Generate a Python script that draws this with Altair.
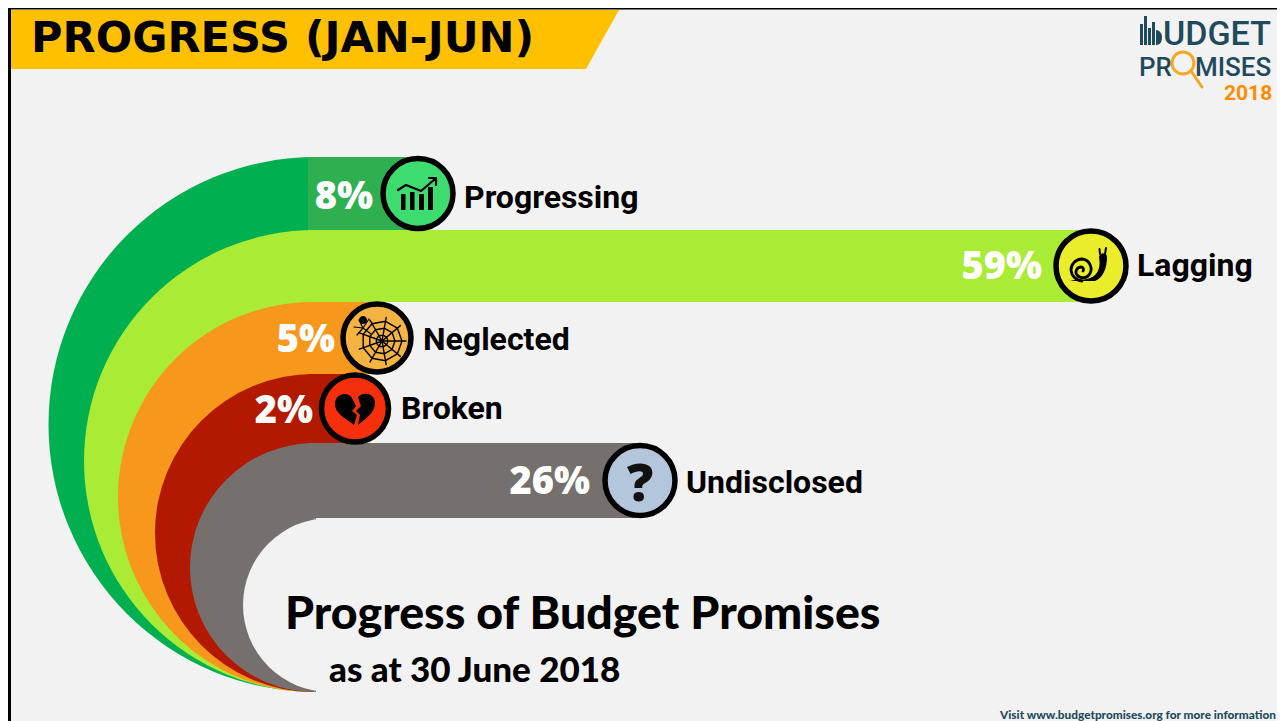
import math
import altair as alt
import pandas as pd

categories = ["Progressing", "Lagging", "Neglected", "Broken", "Undisclosed"]
percent = [8, 59, 5, 2, 26]
percent_labels = ["8%", "59%", "5%", "2%", "26%"]
row_index = [0, 1, 2, 3, 4]
bar_colors = ["#2eb050", "#a9eb35", "#f7981d", "#b31800", "#756f6e"]
arc_colors = ["#00b050", "#a9eb35", "#f7981d", "#b31800", "#756f6e"]
icon_colors = ["#3ddc6e", "#eaed2a", "#f5b342", "#f52e0c", "#b4c6dc"]

x_domain = [0, 2, 5, 8, 26, 59]
x_range = [300, 347, 369, 410, 632, 1083]
y_domain = [0, 1, 2, 3, 4, 5]
y_range = [149, 222, 294, 366, 435, 510]
xs = alt.Scale(domain=x_domain, range=x_range)
ys = alt.Scale(domain=y_domain, range=y_range)

W, H = 1269, 713
BG = "#f2f2f2"
one = pd.DataFrame({"a": [0]})
df = pd.DataFrame({"cat": categories, "pct": percent, "lab": percent_labels,
                   "row": row_index, "mid": [r + 0.5 for r in row_index],
                   "next": [r + 1 for r in row_index],
                   "bar": bar_colors, "icon": icon_colors})
layers = []


def px(v):
    return alt.value(v - 8)


def glyph(path, x, y, fill=None, stroke=None, sw=0):
    kw = dict(shape=path, size=4, opacity=1, strokeWidth=sw)
    kw["filled"] = fill is not None
    if fill is not None:
        kw["fill"] = fill
    if stroke is not None:
        kw["stroke"] = stroke
        kw["strokeCap"] = "round"
        kw["strokeJoin"] = "round"
    else:
        kw["strokeWidth"] = 0
    return alt.Chart(one).mark_point(**kw).encode(x=px(x), y=px(y))


def label(text, x, y, size, font, color="#000000", weight="bold", align="left"):
    return alt.Chart(one).mark_text(text=text, fontSize=size, font=font, color=color,
                                    fontWeight=weight, align=align, baseline="alphabetic").encode(x=px(x), y=px(y))


def disc(color, cx, cy, r):
    return alt.Chart(one).mark_arc(theta=math.pi, theta2=2 * math.pi, radius=r, color=color, strokeWidth=0).encode(x=px(cx), y=px(cy))


# page background and frame
layers.append(alt.Chart(one).mark_rect(color=BG).encode(x=alt.value(0), x2=alt.value(W), y=alt.value(0), y2=alt.value(H)))
layers.append(alt.Chart(one).mark_rule(color="#000000", strokeWidth=3).encode(x=alt.value(1.5), y=alt.value(0), y2=alt.value(H)))
layers.append(alt.Chart(one).mark_rule(color="#000000", strokeWidth=2).encode(x=alt.value(0), x2=alt.value(W), y=alt.value(0.5)))

# banner
layers.append(glyph("M0 0H608L575 59H0Z", 11, 10, fill="#ffc000"))
layers.append(label("PROGRESS (JAN-JUN)", 31, 52, 43, "DejaVu Sans"))

# swoosh
layers += [
    disc(arc_colors[0], 316, 424.5, 267.5),
    disc(arc_colors[1], 315, 461, 231),
    disc(arc_colors[2], 313, 497, 195),
    disc(arc_colors[3], 314, 533, 159),
    disc(arc_colors[4], 314.5, 567.5, 124.5),
    disc(BG, 330, 605, 87),
]

# bars
layers.append(alt.Chart(df).mark_rect(strokeWidth=0).encode(
    x=alt.X("pct:Q", scale=xs, axis=None), x2=alt.value(300),
    y=alt.Y("row:Q", scale=ys, axis=None), y2="next:Q",
    color=alt.Color("bar:N", scale=None)))

# icon discs
icon_r = {"Progressing": 35, "Lagging": 35, "Neglected": 34, "Broken": 33.5, "Undisclosed": 35}
for i, c in enumerate(categories):
    r = icon_r[c]
    layers.append(alt.Chart(df[df.cat == c]).mark_point(
        shape="circle", filled=True, opacity=1, size=(2 * r) ** 2, stroke="#000000", strokeWidth=5.5).encode(
        x=alt.X("pct:Q", scale=xs, axis=None), y=alt.Y("mid:Q", scale=ys, axis=None),
        fill=alt.Fill("icon:N", scale=None)))

# category and percent labels
pct_dx = [-45, -49, -42, -42, -50]
pct_dy = [4, 2, 3, 3, 2]
cat_dy = [4, 0, 2, 0, 2]
for i, c in enumerate(categories):
    sub = df[df.cat == c]
    enc = dict(x=alt.X("pct:Q", scale=xs, axis=None), y=alt.Y("mid:Q", scale=ys, axis=None), text="lab:N")
    layers.append(alt.Chart(sub).mark_text(align="right", baseline="middle", dx=pct_dx[i], dy=pct_dy[i], fontSize=38,
                                           font="Open Sans", fontWeight=800, color="#ffffff").encode(**enc))
    enc2 = dict(x=alt.X("pct:Q", scale=xs, axis=None), y=alt.Y("mid:Q", scale=ys, axis=None), text="cat:N")
    layers.append(alt.Chart(sub).mark_text(align="left", baseline="middle", dx=46, dy=cat_dy[i], fontSize=32,
                                           font="Roboto", fontWeight="bold", color="#000000").encode(**enc2))

# chart icon
cx, cy = 418, 193
layers.append(glyph("M-17 1H-12.5V17H-17ZM-8 -1H-3.5V17H-8ZM1 1H6V17H1ZM10 -6H15V17H10Z", cx, cy, fill="#000000"))
layers.append(glyph("M-20 -3L-12 -8L3 -2L17 -14M11 -15L18 -15L18 -8", cx, cy, stroke="#000000", sw=2.2))
# snail icon
cx, cy = 1091, 265
layers.append(glyph("M-21 16C-12 13 -2 17 5 9C9 4 9 -2 8 -8C9 -13 16 -13 16 -8C16 3 12 13 4 16Z", cx, cy, fill="#000000"))
layers.append(glyph("M-8 6A2.5 2.5 0 0 0 -10 2A5 5 0 0 0 -14 10A8 8 0 0 0 -2 10A10 10 0 0 0 -9 -6A11 11 0 0 0 -20 5A12 12 0 0 0 -9 16", cx, cy, stroke="#000000", sw=2.8))
layers.append(glyph("M9 -11L8.5 -16M14 -11L15 -17", cx, cy, stroke="#000000", sw=2))
# web icon
cx, cy = 377, 338
wx, wy = 5, 3
web = ""
n = 9
for k in range(n):
    a = 2 * math.pi * k / n
    web += f"M{wx:.1f} {wy:.1f}L{wx + 24 * math.cos(a):.1f} {wy + 24 * math.sin(a):.1f}"
for rr in (6, 13, 20):
    for k in range(n + 1):
        a = 2 * math.pi * k / n
        web += ("M" if k == 0 else "L") + f"{wx + rr * math.cos(a):.1f} {wy + rr * math.sin(a):.1f}"
layers.append(glyph(web, cx, cy, stroke="#000000", sw=1.4))
layers.append(glyph("M-14 -14A4 4 0 1 1 -13.9 -14Z", cx, cy, fill="#000000"))
layers.append(glyph("M-14 -10L-23 -11M-14 -10L-20 -3M-14 -10L-8 -19M-14 -10L-18 -18M-14 -10L-6 -4", cx, cy, stroke="#000000", sw=1.2))
# heart icon
cx, cy = 355, 408
layers.append(glyph("M-3 -10C-7 -17 -20 -15 -20 -4C-20 6 -8 11 -1 17L2 7L-3 3L1 -2Z", cx, cy, fill="#000000"))
layers.append(glyph("M3 -11C8 -17 20 -15 20 -5C20 5 10 11 3 17L5 7L1 3L6 -2Z", cx, cy, fill="#000000"))
# question mark
layers.append(label("?", 640, 501, 52, "Open Sans", color="#111111", weight=800, align="center"))

# headings
layers.append(label("Progress of Budget Promises", 285, 629, 46.5, "Lato", weight=900))
layers.append(label("as at 30 June 2018", 329, 682, 35, "Lato", weight=900))
layers.append(label("Visit www.budgetpromises.org for more information", 1000, 719, 11.8, "Lato", color="#1f4a5c", weight=900))

# logo
teal = "#1f4a5c"
layers.append(glyph("M0 29V8H3V29ZM4 29V0H7V29ZM8 29V12H11V29ZM12 29V6H15V29ZM16 29V14C20 14 22 18 22 21C22 26 20 29 16 29Z", 1140, 16, fill=teal))
layers.append(label("UDGET", 1163, 45, 34, "Roboto", color=teal, weight=500))
layers.append(label("PR", 1139, 76, 26, "Roboto", color=teal, weight=500))
layers.append(label("MISES", 1195, 76, 26, "Roboto", color=teal, weight=500))
layers.append(glyph("M0 -11A11 11 0 1 1 -0.1 -11ZM8 8L19 24", 1183, 63, stroke="#f5a623", sw=3))
layers.append(label("2018", 1224, 100, 21, "Roboto", color="#ff8c00", weight="bold"))

chart = alt.layer(*layers).properties(width=W, height=H, padding=0, autosize=alt.AutoSizeParams(type="none")).configure_view(stroke=None)
chart.save("out.html", embed_options={"renderer": "svg", "actions": False})
